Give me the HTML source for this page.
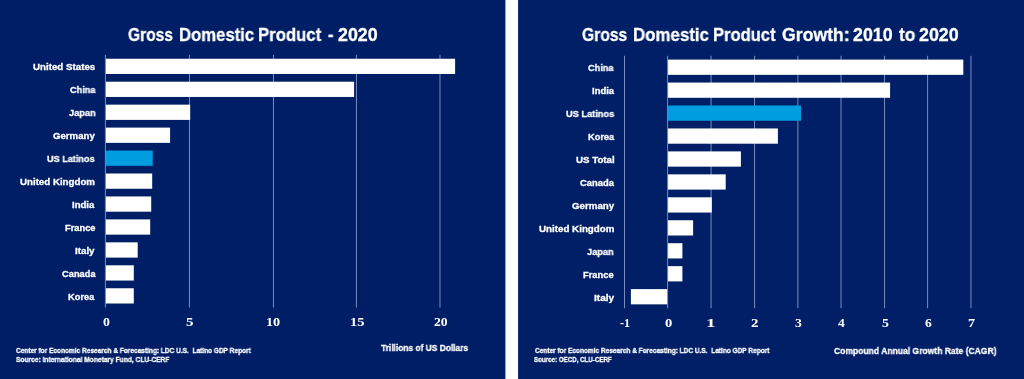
<!DOCTYPE html>
<html><head><meta charset="utf-8"><title>GDP charts</title>
<style>
html,body{margin:0;padding:0;width:1024px;height:379px;overflow:hidden;background:#001e65;}
svg{position:absolute;left:0;top:0;}
.t{position:absolute;white-space:nowrap;line-height:1;color:#fff;font-weight:bold;transform-origin:0 0;will-change:transform;-webkit-text-stroke:0.3px #fff;}
</style></head><body>
<svg width="1024" height="379" viewBox="0 0 1024 379"><rect x="0.00" y="0.00" width="505.40" height="379.00" fill="#001e65"/><rect x="505.40" y="0.00" width="12.90" height="379.00" fill="#ffffff"/><rect x="518.30" y="0.00" width="505.70" height="379.00" fill="#001f67"/><rect x="188.95" y="54.80" width="1.00" height="252.80" fill="#7a8cc0"/><rect x="272.95" y="54.80" width="1.00" height="252.80" fill="#7a8cc0"/><rect x="355.94" y="54.80" width="1.00" height="252.80" fill="#7a8cc0"/><rect x="439.47" y="54.80" width="1.00" height="252.80" fill="#7a8cc0"/><rect x="105.60" y="58.75" width="349.50" height="15.25" fill="#ffffff"/><rect x="105.60" y="81.70" width="248.50" height="15.25" fill="#ffffff"/><rect x="105.60" y="104.65" width="84.60" height="15.25" fill="#ffffff"/><rect x="105.60" y="127.60" width="64.50" height="15.25" fill="#ffffff"/><rect x="105.60" y="150.55" width="47.10" height="15.25" fill="#009ee0"/><rect x="105.60" y="173.50" width="46.60" height="15.25" fill="#ffffff"/><rect x="105.60" y="196.45" width="45.60" height="15.25" fill="#ffffff"/><rect x="105.60" y="219.40" width="44.60" height="15.25" fill="#ffffff"/><rect x="105.60" y="242.35" width="32.10" height="15.25" fill="#ffffff"/><rect x="105.60" y="265.30" width="28.20" height="15.25" fill="#ffffff"/><rect x="105.60" y="288.25" width="28.20" height="15.25" fill="#ffffff"/><rect x="104.90" y="54.80" width="1.00" height="252.80" fill="#7a8cc0"/><rect x="624.00" y="55.80" width="1.00" height="252.40" fill="#7a8cc0"/><rect x="710.56" y="55.80" width="1.00" height="252.40" fill="#7a8cc0"/><rect x="754.04" y="55.80" width="1.00" height="252.40" fill="#7a8cc0"/><rect x="797.40" y="55.80" width="1.00" height="252.40" fill="#7a8cc0"/><rect x="840.52" y="55.80" width="1.00" height="252.40" fill="#7a8cc0"/><rect x="884.04" y="55.80" width="1.00" height="252.40" fill="#7a8cc0"/><rect x="927.10" y="55.80" width="1.00" height="252.40" fill="#7a8cc0"/><rect x="970.47" y="55.80" width="1.00" height="252.40" fill="#7a8cc0"/><rect x="668.00" y="59.60" width="295.30" height="15.25" fill="#ffffff"/><rect x="668.00" y="82.55" width="222.10" height="15.25" fill="#ffffff"/><rect x="668.00" y="105.50" width="133.00" height="15.25" fill="#009ee0"/><rect x="668.00" y="128.45" width="109.90" height="15.25" fill="#ffffff"/><rect x="668.00" y="151.40" width="72.90" height="15.25" fill="#ffffff"/><rect x="668.00" y="174.35" width="57.70" height="15.25" fill="#ffffff"/><rect x="668.00" y="197.30" width="43.80" height="15.25" fill="#ffffff"/><rect x="668.00" y="220.25" width="25.10" height="15.25" fill="#ffffff"/><rect x="668.00" y="243.20" width="14.40" height="15.25" fill="#ffffff"/><rect x="668.00" y="266.15" width="14.40" height="15.25" fill="#ffffff"/><rect x="630.90" y="289.10" width="36.90" height="15.25" fill="#ffffff"/><rect x="667.10" y="55.80" width="1.00" height="252.40" fill="#7a8cc0"/></svg>
<div id="L0" class="t" style="left:33.19px;top:63.00px;font-size:9.3px;font-family:'Liberation Sans', sans-serif;transform:scaleX(1.0473)">United States</div>
<div id="L1" class="t" style="left:69.66px;top:86.00px;font-size:9.3px;font-family:'Liberation Sans', sans-serif;transform:scaleX(0.9789)">China</div>
<div id="L2" class="t" style="left:68.79px;top:109.00px;font-size:9.3px;font-family:'Liberation Sans', sans-serif;transform:scaleX(0.9890)">Japan</div>
<div id="L3" class="t" style="left:53.36px;top:132.00px;font-size:9.3px;font-family:'Liberation Sans', sans-serif;transform:scaleX(1.0361)">Germany</div>
<div id="L4" class="t" style="left:47.40px;top:155.00px;font-size:9.3px;font-family:'Liberation Sans', sans-serif;transform:scaleX(0.9793)">US Latinos</div>
<div id="L5" class="t" style="left:20.25px;top:178.00px;font-size:9.3px;font-family:'Liberation Sans', sans-serif;transform:scaleX(1.0444)">United Kingdom</div>
<div id="L6" class="t" style="left:72.47px;top:201.00px;font-size:9.3px;font-family:'Liberation Sans', sans-serif;transform:scaleX(1.0284)">India</div>
<div id="L7" class="t" style="left:65.20px;top:224.00px;font-size:9.3px;font-family:'Liberation Sans', sans-serif;transform:scaleX(0.9991)">France</div>
<div id="L8" class="t" style="left:75.38px;top:247.00px;font-size:9.3px;font-family:'Liberation Sans', sans-serif;transform:scaleX(1.0502)">Italy</div>
<div id="L9" class="t" style="left:61.60px;top:270.00px;font-size:9.3px;font-family:'Liberation Sans', sans-serif;transform:scaleX(0.9948)">Canada</div>
<div id="L10" class="t" style="left:68.46px;top:293.00px;font-size:9.3px;font-family:'Liberation Sans', sans-serif;transform:scaleX(0.9943)">Korea</div>
<div id="R0" class="t" style="left:588.10px;top:64.00px;font-size:9.3px;font-family:'Liberation Sans', sans-serif;transform:scaleX(0.9828)">China</div>
<div id="R1" class="t" style="left:591.86px;top:87.00px;font-size:9.3px;font-family:'Liberation Sans', sans-serif;transform:scaleX(1.0178)">India</div>
<div id="R2" class="t" style="left:565.81px;top:110.00px;font-size:9.3px;font-family:'Liberation Sans', sans-serif;transform:scaleX(0.9910)">US Latinos</div>
<div id="R3" class="t" style="left:587.57px;top:133.00px;font-size:9.3px;font-family:'Liberation Sans', sans-serif;transform:scaleX(0.9882)">Korea</div>
<div id="R4" class="t" style="left:575.66px;top:156.00px;font-size:9.3px;font-family:'Liberation Sans', sans-serif;transform:scaleX(1.0441)">US Total</div>
<div id="R5" class="t" style="left:579.57px;top:179.00px;font-size:9.3px;font-family:'Liberation Sans', sans-serif;transform:scaleX(1.0076)">Canada</div>
<div id="R6" class="t" style="left:571.94px;top:202.00px;font-size:9.3px;font-family:'Liberation Sans', sans-serif;transform:scaleX(1.0466)">Germany</div>
<div id="R7" class="t" style="left:538.64px;top:225.00px;font-size:9.3px;font-family:'Liberation Sans', sans-serif;transform:scaleX(1.0511)">United Kingdom</div>
<div id="R8" class="t" style="left:587.30px;top:248.00px;font-size:9.3px;font-family:'Liberation Sans', sans-serif;transform:scaleX(0.9860)">Japan</div>
<div id="R9" class="t" style="left:583.34px;top:271.00px;font-size:9.3px;font-family:'Liberation Sans', sans-serif;transform:scaleX(1.0033)">France</div>
<div id="R10" class="t" style="left:593.77px;top:294.00px;font-size:9.3px;font-family:'Liberation Sans', sans-serif;transform:scaleX(1.0833)">Italy</div>
<div id="tL0" class="t" style="left:128.13px;top:27.00px;font-size:17.7px;font-family:'Liberation Sans', sans-serif;transform:scaleX(0.8786)">Gross</div>
<div id="tL1" class="t" style="left:178.85px;top:27.00px;font-size:17.7px;font-family:'Liberation Sans', sans-serif;transform:scaleX(0.9440)">Domestic</div>
<div id="tL2" class="t" style="left:258.26px;top:27.00px;font-size:17.7px;font-family:'Liberation Sans', sans-serif;transform:scaleX(0.9462)">Product</div>
<div id="tL3" class="t" style="left:327.55px;top:27.00px;font-size:17.7px;font-family:'Liberation Sans', sans-serif;transform:scaleX(0.9210)">-</div>
<div id="tL4" class="t" style="left:338.02px;top:27.00px;font-size:17.7px;font-family:'Liberation Sans', sans-serif;transform:scaleX(1.0086)">2020</div>
<div id="tR0" class="t" style="left:582.39px;top:27.00px;font-size:17.7px;font-family:'Liberation Sans', sans-serif;transform:scaleX(0.8839)">Gross</div>
<div id="tR1" class="t" style="left:633.11px;top:27.00px;font-size:17.7px;font-family:'Liberation Sans', sans-serif;transform:scaleX(0.9539)">Domestic</div>
<div id="tR2" class="t" style="left:713.00px;top:27.00px;font-size:17.7px;font-family:'Liberation Sans', sans-serif;transform:scaleX(0.9363)">Product</div>
<div id="tR3" class="t" style="left:781.73px;top:27.00px;font-size:17.7px;font-family:'Liberation Sans', sans-serif;transform:scaleX(0.9970)">Growth:</div>
<div id="tR4" class="t" style="left:853.45px;top:27.00px;font-size:17.7px;font-family:'Liberation Sans', sans-serif;transform:scaleX(1.0047)">2010</div>
<div id="tR5" class="t" style="left:898.50px;top:27.00px;font-size:17.7px;font-family:'Liberation Sans', sans-serif;transform:scaleX(0.9716)">to</div>
<div id="tR6" class="t" style="left:919.40px;top:27.00px;font-size:17.7px;font-family:'Liberation Sans', sans-serif;transform:scaleX(1.0090)">2020</div>
<div id="fL1" class="t" style="left:16.32px;top:347.00px;font-size:7.5px;font-family:'Liberation Sans', sans-serif;transform:scaleX(0.8712)">Center for Economic Research &amp; Forecasting: LDC U.S.&nbsp; Latino GDP Report</div>
<div id="fL2" class="t" style="left:15.63px;top:356.00px;font-size:7.5px;font-family:'Liberation Sans', sans-serif;transform:scaleX(0.8852)">Source: International Monetary Fund, CLU-CERF</div>
<div id="fR1" class="t" style="left:534.64px;top:347.00px;font-size:7.5px;font-family:'Liberation Sans', sans-serif;transform:scaleX(0.8699)">Center for Economic Research &amp; Forecasting: LDC U.S.&nbsp; Latino GDP Report</div>
<div id="fR2" class="t" style="left:534.24px;top:356.00px;font-size:7.5px;font-family:'Liberation Sans', sans-serif;transform:scaleX(0.8257)">Source: OECD, CLU-CERF</div>
<div id="trill" class="t" style="left:381.36px;top:343.00px;font-size:9.4px;font-family:'Liberation Sans', sans-serif;transform:scaleX(0.8940)">Trillions of US Dollars</div>
<div id="cagr" class="t" style="left:833.63px;top:346.00px;font-size:9.4px;font-family:'Liberation Sans', sans-serif;transform:scaleX(0.9115)">Compound Annual Growth Rate (CAGR)</div>
<div id="dL0" class="t" style="left:102.94px;top:316.00px;font-size:12.0px;font-family:'Liberation Serif', serif;transform:scaleX(1.1490);-webkit-text-stroke:0">0</div>
<div id="dL5" class="t" style="left:185.74px;top:316.00px;font-size:12.0px;font-family:'Liberation Serif', serif;transform:scaleX(1.2455);-webkit-text-stroke:0">5</div>
<div id="dL10" class="t" style="left:266.17px;top:316.00px;font-size:12.0px;font-family:'Liberation Serif', serif;transform:scaleX(1.1856);-webkit-text-stroke:0">10</div>
<div id="dL15" class="t" style="left:349.78px;top:316.00px;font-size:12.0px;font-family:'Liberation Serif', serif;transform:scaleX(1.2088);-webkit-text-stroke:0">15</div>
<div id="dL20" class="t" style="left:433.62px;top:316.00px;font-size:12.0px;font-family:'Liberation Serif', serif;transform:scaleX(1.1438);-webkit-text-stroke:0">20</div>
<div id="dR-1" class="t" style="left:619.85px;top:317.00px;font-size:12.0px;font-family:'Liberation Serif', serif;transform:scaleX(1.0140);-webkit-text-stroke:0">-1</div>
<div id="dR0" class="t" style="left:664.66px;top:317.00px;font-size:12.0px;font-family:'Liberation Serif', serif;transform:scaleX(1.2154);-webkit-text-stroke:0">0</div>
<div id="dR1" class="t" style="left:706.37px;top:317.00px;font-size:12.0px;font-family:'Liberation Serif', serif;transform:scaleX(1.5932);-webkit-text-stroke:0">1</div>
<div id="dR2" class="t" style="left:750.63px;top:317.00px;font-size:12.0px;font-family:'Liberation Serif', serif;transform:scaleX(1.2389);-webkit-text-stroke:0">2</div>
<div id="dR3" class="t" style="left:794.77px;top:317.00px;font-size:12.0px;font-family:'Liberation Serif', serif;transform:scaleX(1.1405);-webkit-text-stroke:0">3</div>
<div id="dR4" class="t" style="left:837.71px;top:317.00px;font-size:12.0px;font-family:'Liberation Serif', serif;transform:scaleX(1.1262);-webkit-text-stroke:0">4</div>
<div id="dR5" class="t" style="left:881.67px;top:317.00px;font-size:12.0px;font-family:'Liberation Serif', serif;transform:scaleX(1.1505);-webkit-text-stroke:0">5</div>
<div id="dR6" class="t" style="left:925.14px;top:317.00px;font-size:12.0px;font-family:'Liberation Serif', serif;transform:scaleX(1.1259);-webkit-text-stroke:0">6</div>
<div id="dR7" class="t" style="left:967.64px;top:317.00px;font-size:12.0px;font-family:'Liberation Serif', serif;transform:scaleX(1.1673);-webkit-text-stroke:0">7</div>
</body></html>
